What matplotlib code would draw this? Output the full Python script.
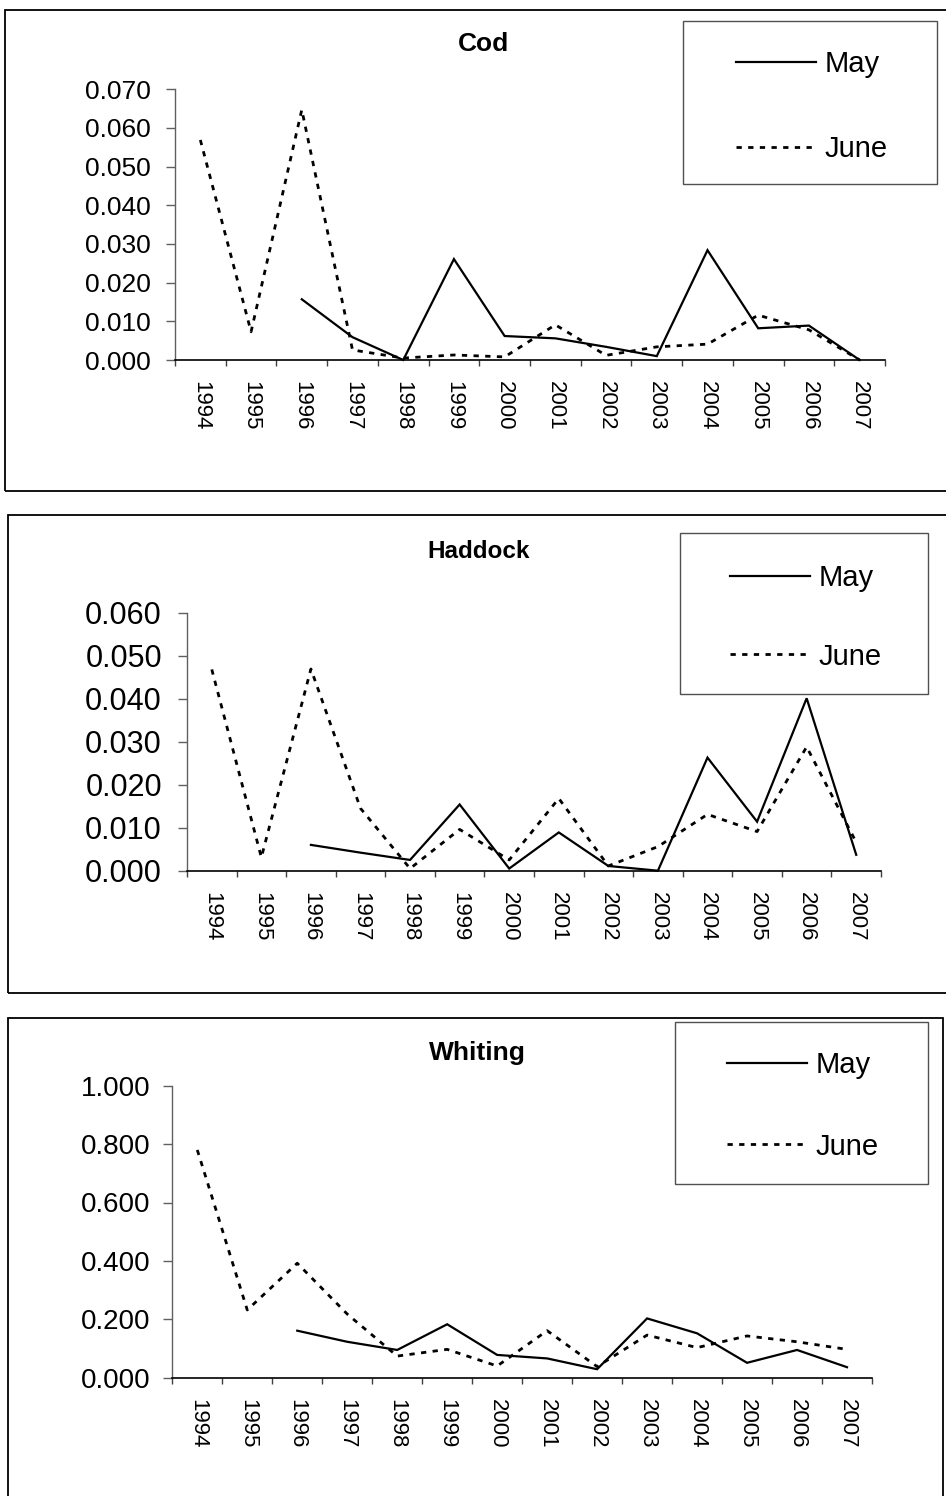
import numpy as np
import matplotlib
matplotlib.use("Agg")
import matplotlib.pyplot as plt
from matplotlib.patches import Rectangle

plt.rcParams['font.family'] = ['Liberation Sans', 'DejaVu Sans']

years = ['1994', '1995', '1996', '1997', '1998', '1999', '2000',
         '2001', '2002', '2003', '2004', '2005', '2006', '2007']
nan = np.nan

cod_may = [nan, nan, 0.0157, 0.0059, 0.0000, 0.0261, 0.0062,
           0.0056, 0.0034, 0.0010, 0.0284, 0.0082, 0.0089, 0.0000]
cod_june = [0.0569, 0.0073, 0.0647, 0.0026, 0.0005, 0.0013, 0.0008,
            0.0091, 0.0012, 0.0034, 0.0041, 0.0116, 0.0078, 0.0000]

haddock_may = [nan, nan, 0.0060, 0.0042, 0.0025, 0.0154, 0.0005,
               0.0089, 0.0011, 0.0000, 0.0263, 0.0114, 0.0401, 0.0037]
haddock_june = [0.0468, 0.0031, 0.0469, 0.0145, 0.0005, 0.0096, 0.0025,
                0.0168, 0.0011, 0.0056, 0.0131, 0.0091, 0.0288, 0.0066]

whiting_may = [nan, nan, 0.161, 0.123, 0.095, 0.183, 0.078,
               0.066, 0.029, 0.203, 0.152, 0.051, 0.095, 0.036]
whiting_june = [0.780, 0.232, 0.392, 0.218, 0.074, 0.097, 0.040,
                0.161, 0.038, 0.146, 0.103, 0.143, 0.123, 0.097]

titles = ['Cod', 'Haddock', 'Whiting']
series_labels = ['May', 'June']

W, H = 946, 1496
fig = plt.figure(figsize=(W / 100, H / 100), dpi=100)


def fx(x):
    return x / W


def fy(y):
    return 1 - y / H


panels = [
    dict(title=titles[0], may=cod_may, june=cod_june,
         ax=(175, 89.3, 885, 360), ymax=0.070, ystep=0.010, yfs=19, ypad=11,
         box=(5, 10, 960, 491), leg=(683, 21, 937, 184), legc=(812, 106.5), lsp=1.96,
         tpos=(483, 44), tfs=19),
    dict(title=titles[1], may=haddock_may, june=haddock_june,
         ax=(187, 612.7, 881, 870.7), ymax=0.060, ystep=0.010, yfs=22, ypad=11.5,
         box=(8, 515, 960, 993), leg=(679.5, 533, 928, 694), legc=(806, 617.5), lsp=1.72,
         tpos=(479, 551), tfs=17.5),
    dict(title=titles[2], may=whiting_may, june=whiting_june,
         ax=(172.3, 1085.7, 872, 1377.7), ymax=1.0, ystep=0.2, yfs=20, ypad=9.5,
         box=(8, 1018, 943, 1520), leg=(675, 1021.7, 928, 1184), legc=(803, 1106), lsp=1.82,
         tpos=(477, 1053), tfs=19),
]

x = np.arange(len(years))

for p in panels:
    # outer chart-area border
    bx0, by0, bx1, by1 = p['box']
    fig.patches.append(Rectangle((fx(bx0), fy(by1)), (bx1 - bx0) / W, (by1 - by0) / H,
                                 transform=fig.transFigure, fill=False,
                                 edgecolor='black', linewidth=1.3, zorder=-2))

    lx0, ly0, lx1, ly1 = p['leg']
    fig.patches.append(Rectangle((fx(lx0), fy(ly1)), (lx1 - lx0) / W, (ly1 - ly0) / H,
                                 transform=fig.transFigure, fill=False,
                                 edgecolor='#505050', linewidth=1.0, zorder=-1))

    x0, y0, x1, y1 = p['ax']
    ax = fig.add_axes([fx(x0), fy(y1), (x1 - x0) / W, (y1 - y0) / H])
    ax.set_facecolor('none')
    l1, = ax.plot(x, p['may'], color='black', lw=1.6, solid_joinstyle='miter',
                  label=series_labels[0], clip_on=False)
    l2, = ax.plot(x, p['june'], color='black', lw=2.0, linestyle=(0, (1.9, 2.3)),
                  label=series_labels[1], clip_on=False)

    ax.set_xlim(-0.5, len(years) - 0.5)
    ax.set_ylim(0, p['ymax'])
    for s in ['top', 'right']:
        ax.spines[s].set_visible(False)
    ax.spines['left'].set_color('#606060')
    ax.spines['left'].set_linewidth(1.0)
    ax.spines['bottom'].set_color('black')
    ax.spines['bottom'].set_linewidth(1.2)

    yt = np.arange(0, p['ymax'] + p['ystep'] / 2, p['ystep'])
    ax.set_yticks(yt)
    ax.set_yticklabels(['%.3f' % v for v in yt], fontsize=p['yfs'])
    ax.tick_params(axis='y', direction='out', length=6.5, width=1.0,
                   color='#606060', pad=p['ypad'])

    ax.set_xticks(x)
    ax.set_xticklabels(years, rotation=270, fontsize=16)
    ax.tick_params(axis='x', which='major', length=0, pad=15)
    ax.set_xticks(np.arange(-0.5, len(years), 1.0), minor=True)
    ax.tick_params(axis='x', which='minor', direction='out', length=4.5,
                   width=1.0, color='#404040')

    fig.text(fx(p['tpos'][0]), fy(p['tpos'][1]), p['title'], fontsize=p['tfs'],
             fontweight='bold', ha='center', va='center')

    ax.legend(handles=[l1, l2], loc='center',
              bbox_to_anchor=(fx(p['legc'][0]), fy(p['legc'][1])),
              bbox_transform=fig.transFigure, frameon=False, fontsize=21,
              handlelength=2.75, handletextpad=0.3, labelspacing=p['lsp'],
              borderpad=0)

fig.savefig('out.png', dpi=100)
